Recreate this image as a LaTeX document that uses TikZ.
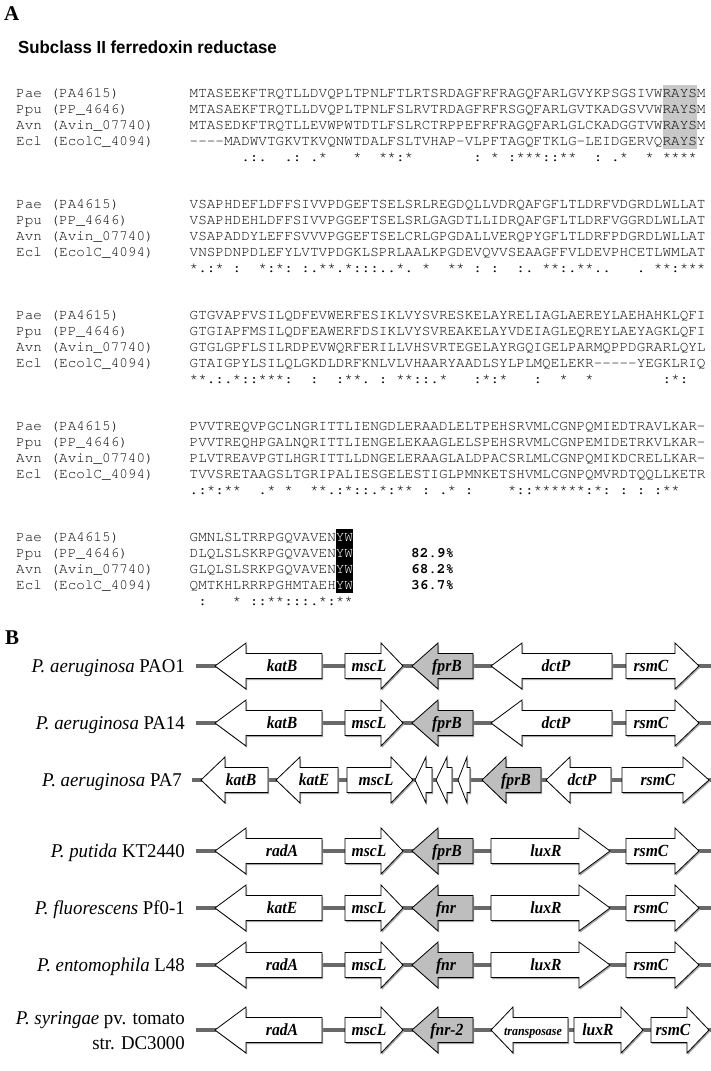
\documentclass[tikz,border=0pt]{standalone}
\usepackage{graphicx}
\usepackage{fontspec}
\setmainfont{Liberation Serif}
\setmonofont{TeX Gyre Cursor}
\newfontfamily\titlesans{Liberation Sans}
\definecolor{backbonegray}{RGB}{105,105,105}
\definecolor{seqtext}{RGB}{10,10,10}
\definecolor{raysgray}{RGB}{200,200,200}
\definecolor{fprgray}{RGB}{190,190,190}
\newcommand{\hsq}[1]{\scalebox{0.92}[1]{#1}}
\newcommand{\hsp}[1]{\scalebox{0.965}[1]{#1}}
\tikzset{
  seq/.style={anchor=base west, inner sep=0pt, font=\fontsize{14.33}{16}\ttfamily, text=seqtext},
  pct/.style={anchor=base west, inner sep=0pt, font=\fontsize{14.33}{16}\ttfamily\bfseries},
  species/.style={anchor=base east, inner sep=0pt, font=\fontsize{19.5}{24}\selectfont},
  genelab/.style={anchor=base, inner sep=0pt, font=\fontsize{17}{18}\selectfont\bfseries\itshape},
  backbone/.style={line width=4pt, draw=backbonegray},
  panel/.style={anchor=base west, inner sep=0pt, font=\fontsize{21}{21}\selectfont\bfseries},
}
\def\gbh{12.5}
\def\ghh{23}
% #1 tail x, #2 tip x, #3 y, #4 fill, #5 head length, #6 label x, #7 label, #8 name
\newcommand{\gene}[8]{%
  \pgfmathsetmacro{\hbx}{#2-#5*sign(#2-#1)}%
  \fill[black!35, xshift=1.2pt, yshift=-1.6pt] (#1,{#3-\gbh}) -- (\hbx,{#3-\gbh}) -- (\hbx,{#3-\ghh}) -- (#2,#3) -- (\hbx,{#3+\ghh}) -- (\hbx,{#3+\gbh}) -- (#1,{#3+\gbh}) -- cycle;
  \filldraw[fill=#4, draw=black, line width=0.8pt, line join=miter] (#1,{#3-\gbh}) -- (\hbx,{#3-\gbh}) -- (\hbx,{#3-\ghh}) -- (#2,#3) -- (\hbx,{#3+\ghh}) -- (\hbx,{#3+\gbh}) -- (#1,{#3+\gbh}) -- cycle;
  \node[genelab] (#8) at (#6,{#3+5.5}) {\hsq{#7}};
}
% #1 y of first row, #2-#5 sequences, #6 conservation, #7 prefix
\newcommand{\alnblock}[7]{%
  \node[seq] (#7laba) at (16,{#1+4.5}) {Pae (PA4615)};
  \node[seq] (#7labb) at (16,{#1+20.5}) {Ppu (PP\_4646)};
  \node[seq] (#7labc) at (16,{#1+36.5}) {Avn (Avin\_07740)};
  \node[seq] (#7labd) at (16,{#1+52.5}) {Ecl (EcolC\_4094)};
  \node[seq] (#7sa) at (189.5,{#1+4.5}) {#2};
  \node[seq] (#7sb) at (189.5,{#1+20.5}) {#3};
  \node[seq] (#7sc) at (189.5,{#1+36.5}) {#4};
  \node[seq] (#7sd) at (189.5,{#1+52.5}) {#5};
  \node[seq] (#7cons) at (189.5,{#1+68.5}) {#6};
}
\begin{document}
\begin{tikzpicture}[x=1pt,y=-1pt]
\useasboundingbox (0,0) rectangle (711,1071);
\fill[white] (0,0) rectangle (711,1071);

% ---------- Panel A ----------
\node[panel] (panelA) at (4,20) {A};
\node[anchor=base west, inner sep=0pt, font=\fontsize{17.5}{17.5}\titlesans\bfseries] (title) at (18,53) {\scalebox{0.96}[1]{Subclass II ferredoxin reductase}};

\fill[raysgray] (662.5,85) rectangle (696.9,149);
\fill[black] (335.7,529) rectangle (352.9,593);

\alnblock{93}
 {MTASEEKFTRQTLLDVQPLTPNLFTLRTSRDAGFRFRAGQFARLGVYKPSGSIVWRAYSM}
 {MTASAEKFTRQTLLDVQPLTPNLFSLRVTRDAGFRFRSGQFARLGVTKADGSVVWRAYSM}
 {MTASEDKFTRQTLLEVWPWTDTLFSLRCTRPPEFRFRAGQFARLGLCKADGGTVWRAYSM}
 {----MADWVTGKVTKVQNWTDALFSLTVHAP-VLPFTAGQFTKLG-LEIDGERVQRAYSY}
 {~~~~~~.:.~~.:~.*~~~*~~**:*~~~~~~~:~*~:***::**~~:~.*~~*~****}
 {bA}
\alnblock{204}
 {VSAPHDEFLDFFSIVVPDGEFTSELSRLREGDQLLVDRQAFGFLTLDRFVDGRDLWLLAT}
 {VSAPHDEHLDFFSIVVPGGEFTSELSRLGAGDTLLIDRQAFGFLTLDRFVGGRDLWLLAT}
 {VSAPADDYLEFFSVVVPGGEFTSELCRLGPGDALLVERQPYGFLTLDRFPDGRDLWLLAT}
 {VNSPDNPDLEFYLVTVPDGKLSPRLAALKPGDEVQVVSEAAGFFVLDEVPHCETLWMLAT}
 {*.:*~:~~*:*:~:.**.*:::..*.~*~~**~:~:~~:.~**:.**..~~~.~**:***}
 {bB}
\alnblock{315}
 {GTGVAPFVSILQDFEVWERFESIKLVYSVRESKELAYRELIAGLAEREYLAEHAHKLQFI}
 {GTGIAPFMSILQDFEAWERFDSIKLVYSVREAKELAYVDEIAGLEQREYLAEYAGKLQFI}
 {GTGLGPFLSILRDPEVWQRFERILLVHSVRTEGELAYRGQIGELPARMQPPDGRARLQYL}
 {GTAIGPYLSILQLGKDLDRFKNLVLVHAARYAADLSYLPLMQELEKR-----YEGKLRIQ}
 {**.:.*::***:~~:~~:**.~:~**::.*~~~:*:*~~~:~~*~~*~~~~~~~~:*:}
 {bC}
\alnblock{426}
 {PVVTREQVPGCLNGRITTLIENGDLERAADLELTPEHSRVMLCGNPQMIEDTRAVLKAR-}
 {PVVTREQHPGALNQRITTLIENGELEKAAGLELSPEHSRVMLCGNPEMIDETRKVLKAR-}
 {PLVTREAVPGTLHGRITTLLDNGELERAAGLALDPACSRLMLCGNPQMIKDCRELLKAR-}
 {TVVSRETAAGSLTGRIPALIESGELESTIGLPMNKETSHVMLCGNPQMVRDTQQLLKETR}
 {.:*:**~~.*~*~~**.:*::.*:**~:~.*~:~~~~*::******:*:~:~:~:**}
 {bD}
\alnblock{537}
 {GMNLSLTRRPGQVAVEN\textcolor{white}{YW}}
 {DLQLSLSKRPGQVAVEN\textcolor{white}{YW}}
 {GLQLSLSRKPGQVAVEN\textcolor{white}{YW}}
 {QMTKHLRRRPGHMTAEH\textcolor{white}{YW}}
 {~:~~~*~::**:::.*:**}
 {bE}

\node[pct] (pctPpu) at (411,557.5) {82.9\%};
\node[pct] (pctAvn) at (411,573.5) {68.2\%};
\node[pct] (pctEcl) at (411,589.5) {36.7\%};

% ---------- Panel B ----------
\node[panel] (panelB) at (5,644) {B};

% backbones
\coordinate (l1s) at (196,666);  \coordinate (l1e) at (711,666);
\coordinate (l2s) at (196,723);  \coordinate (l2e) at (711,723);
\coordinate (l3s) at (192,780);  \coordinate (l3e) at (711,780);
\coordinate (l4s) at (196,851);  \coordinate (l4e) at (711,851);
\coordinate (l5s) at (196,908);  \coordinate (l5e) at (711,908);
\coordinate (l6s) at (196,965);  \coordinate (l6e) at (711,965);
\coordinate (l7s) at (196,1030); \coordinate (l7e) at (711,1030);
\foreach \r in {1,...,7} { \draw[backbone] (l\r s) -- (l\r e); }

% species labels
\node[species] (sp1) at (185,672) {\hsp{\textit{P. aeruginosa} PAO1}};
\node[species] (sp2) at (185,729) {\hsp{\textit{P. aeruginosa} PA14}};
\node[species] (sp3) at (182,786) {\hsp{\textit{P. aeruginosa} PA7}};
\node[species] (sp4) at (185,857) {\hsp{\textit{P. putida} KT2440}};
\node[species] (sp5) at (185,914) {\hsp{\textit{P. fluorescens} Pf0-1}};
\node[species] (sp6) at (185,971) {\hsp{\textit{P. entomophila} L48}};
\node[species] (sp7a) at (185,1024) {\hsp{\textit{P. syringae} pv. tomato}};
\node[species] (sp7b) at (185,1049) {\hsp{str. DC3000}};

% row 1 PAO1
\gene{322}{215}{666}{white}{31}{282}{katB}{g1a}
\gene{345}{403}{666}{white}{22}{369}{mscL}{g1b}
\gene{473}{412}{666}{fprgray}{26}{447}{fprB}{g1c}
\gene{612}{491}{666}{white}{31}{556}{dctP}{g1d}
\gene{626}{699}{666}{white}{24}{651}{rsmC}{g1e}
% row 2 PA14
\gene{322}{215}{723}{white}{31}{282}{katB}{g2a}
\gene{345}{403}{723}{white}{22}{369}{mscL}{g2b}
\gene{473}{412}{723}{fprgray}{26}{447}{fprB}{g2c}
\gene{612}{491}{723}{white}{31}{556}{dctP}{g2d}
\gene{626}{699}{723}{white}{24}{651}{rsmC}{g2e}
% row 3 PA7
\gene{268}{201}{780}{white}{24}{241}{katB}{g3a}
\gene{338}{276}{780}{white}{24}{314}{katE}{g3b}
\gene{347}{413}{780}{white}{22}{376}{mscL}{g3c}
\gene{432}{415}{780}{white}{11}{0}{}{g3d}
\gene{452}{436}{780}{white}{11}{0}{}{g3e}
\gene{470}{458}{780}{white}{9}{0}{}{g3f}
\gene{541}{482}{780}{fprgray}{24}{516}{fprB}{g3g}
\gene{611}{546}{780}{white}{24}{582}{dctP}{g3h}
\gene{622}{709}{780}{white}{26}{658}{rsmC}{g3i}
% row 4 KT2440
\gene{322}{215}{851}{white}{31}{282}{radA}{g4a}
\gene{345}{403}{851}{white}{22}{369}{mscL}{g4b}
\gene{473}{412}{851}{fprgray}{26}{447}{fprB}{g4c}
\gene{491}{610}{851}{white}{31}{546}{luxR}{g4d}
\gene{626}{699}{851}{white}{24}{651}{rsmC}{g4e}
% row 5 Pf0-1
\gene{322}{215}{908}{white}{31}{282}{katE}{g5a}
\gene{345}{403}{908}{white}{22}{369}{mscL}{g5b}
\gene{473}{412}{908}{fprgray}{26}{446}{fnr}{g5c}
\gene{491}{610}{908}{white}{31}{546}{luxR}{g5d}
\gene{626}{699}{908}{white}{24}{651}{rsmC}{g5e}
% row 6 L48
\gene{322}{215}{965}{white}{31}{282}{radA}{g6a}
\gene{345}{403}{965}{white}{22}{369}{mscL}{g6b}
\gene{473}{412}{965}{fprgray}{26}{446}{fnr}{g6c}
\gene{491}{610}{965}{white}{31}{546}{luxR}{g6d}
\gene{626}{699}{965}{white}{24}{651}{rsmC}{g6e}
% row 7 syringae
\gene{322}{215}{1030}{white}{31}{282}{radA}{g7a}
\gene{345}{403}{1030}{white}{22}{369}{mscL}{g7b}
\gene{473}{412}{1030}{fprgray}{26}{447}{fnr-2}{g7c}
\gene{568}{491}{1030}{white}{22}{533}{{\fontsize{13}{14}\selectfont transposase}}{g7d}
\gene{574}{643}{1030}{white}{22}{598}{luxR}{g7e}
\gene{651}{709}{1030}{white}{22}{673}{rsmC}{g7f}
\end{tikzpicture}
\end{document}
